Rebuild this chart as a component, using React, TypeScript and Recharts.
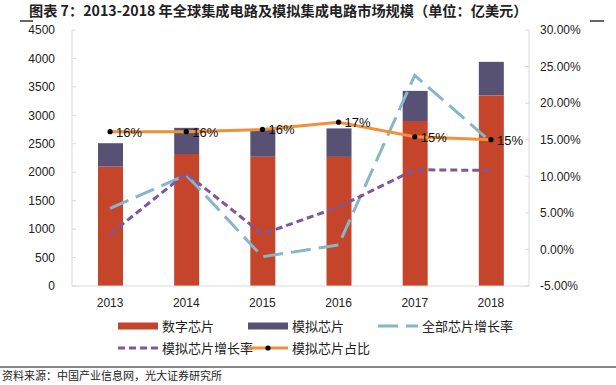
import {
  ComposedChart,
  Bar,
  Line,
  XAxis,
  YAxis,
  LabelList,
} from "recharts";

const years = ["2013", "2014", "2015", "2016", "2017", "2018"];
const digital = [2100, 2320, 2270, 2270, 2900, 3350];
const analog = [410, 460, 480, 500, 530, 590];
const totalGrowth = [5.6, 10.2, -1.0, 0.6, 23.8, 14.7];
const analogGrowth = [2.1, 10.4, 2.1, 5.8, 10.9, 10.8];
const analogShare = [16.1, 16.1, 16.4, 17.4, 15.4, 15.0];
const leftTicks = [0, 500, 1000, 1500, 2000, 2500, 3000, 3500, 4000, 4500];
const rightTicks = [-5, 0, 5, 10, 15, 20, 25, 30];

const data = years.map((y, i) => ({
  year: y,
  digital: digital[i],
  analog: analog[i],
  totalGrowth: totalGrowth[i],
  analogGrowth: analogGrowth[i],
  share: analogShare[i],
}));

const C = {
  digital: "#c4452a",
  analog: "#575173",
  total: "#86b6c8",
  analogGrowth: "#80569a",
  share: "#f0903a",
  axis: "#d9d9d9",
};

const tickStyle = { fontSize: 12, fill: "#222", fontFamily: "Liberation Sans, Arial, sans-serif" };
const cjk = '"Noto Sans CJK SC", sans-serif';

const ShareDot = (p: any) => <circle cx={p.cx} cy={p.cy} r={2.6} fill="#000" />;

const ShareLabel = (p: any) => (
  <text
    x={p.x + 6}
    y={p.y + 5}
    fontSize={13}
    fill="#111"
    fontFamily="Liberation Sans, Arial, sans-serif"
  >
    {Math.round(p.value)}%
  </text>
);

const Swatch = ({ kind, color }: { kind: string; color: string }) => (
  <svg width={40} height={10} style={{ marginRight: 4 }}>
    {kind === "bar" && <rect x={0} y={1.5} width={40} height={7} fill={color} />}
    {kind === "long" && (
      <line x1={0} y1={5} x2={40} y2={5} stroke={color} strokeWidth={3} strokeDasharray="20 8" />
    )}
    {kind === "short" && (
      <line x1={0} y1={5} x2={40} y2={5} stroke={color} strokeWidth={3} strokeDasharray="7 4" />
    )}
    {kind === "dot" && (
      <>
        <line x1={0} y1={5} x2={40} y2={5} stroke={color} strokeWidth={3} />
        <circle cx={20} cy={5} r={2.6} fill="#000" />
      </>
    )}
  </svg>
);

const LegendItem = ({ x, y, kind, color, label }: any) => (
  <div
    style={{
      position: "absolute",
      left: x,
      top: y,
      display: "flex",
      alignItems: "center",
      fontSize: 13,
      lineHeight: "16px",
      fontFamily: cjk,
      color: "#222",
      whiteSpace: "nowrap",
    }}
  >
    <Swatch kind={kind} color={color} />
    {label}
  </div>
);

export default function App() {
  return (
    <div style={{ position: "absolute", left: 0, top: 0, width: 616, height: 385, background: "#fff", overflow: "hidden" }}>
      <div
        style={{
          position: "absolute",
          left: 29,
          top: 2,
          fontSize: 14.2,
          lineHeight: "16px",
          fontWeight: 700,
          fontFamily: cjk,
          color: "#222",
          whiteSpace: "nowrap",
        }}
      >
        图表 7：2013-2018 年全球集成电路及模拟集成电路市场规模（单位：亿美元）
      </div>
      <div style={{ position: "absolute", left: 20, top: 20, width: 13, height: 2, background: "#666" }} />
      <div style={{ position: "absolute", left: 590, top: 20, width: 14, height: 2, background: "#666" }} />

      <div style={{ position: "absolute", left: 0, top: 0 }}>
        <ComposedChart
          width={616}
          height={310}
          data={data}
          margin={{ top: 30, right: 0, bottom: 0, left: 0 }}
          barCategoryGap={25}
        >
          <XAxis
            dataKey="year"
            axisLine={{ stroke: C.axis }}
            tickLine={false}
            tick={tickStyle}
            height={24}
            tickMargin={6}
          />
          <YAxis
            yAxisId="left"
            domain={[0, 4500]}
            ticks={leftTicks}
            width={72}
            axisLine={{ stroke: C.axis }}
            tickLine={{ stroke: C.axis }}
            tickSize={-4}
            tickMargin={21}
            tick={tickStyle}
            interval={0}
          />
          <YAxis
            yAxisId="right"
            orientation="right"
            domain={[-5, 30]}
            ticks={rightTicks}
            width={87}
            axisLine={{ stroke: C.axis }}
            tickLine={{ stroke: C.axis }}
            tickSize={-4}
            tickMargin={15}
            tick={tickStyle}
            interval={0}
            tickFormatter={(v: number) => `${v.toFixed(2)}%`}
          />
          <Bar yAxisId="left" dataKey="digital" stackId="a" fill={C.digital} barSize={25} isAnimationActive={false} />
          <Bar yAxisId="left" dataKey="analog" stackId="a" fill={C.analog} barSize={25} isAnimationActive={false} />
          <Line
            yAxisId="right"
            dataKey="totalGrowth"
            stroke={C.total}
            strokeWidth={3}
            strokeDasharray="20 8"
            dot={false}
            type="linear"
            isAnimationActive={false}
          />
          <Line
            yAxisId="right"
            dataKey="analogGrowth"
            stroke={C.analogGrowth}
            strokeWidth={3}
            strokeDasharray="7 4"
            dot={false}
            type="linear"
            isAnimationActive={false}
          />
          <Line
            yAxisId="right"
            dataKey="share"
            stroke={C.share}
            strokeWidth={3}
            dot={<ShareDot />}
            type="linear"
            isAnimationActive={false}
          >
            <LabelList dataKey="share" content={<ShareLabel />} />
          </Line>
        </ComposedChart>
      </div>

      <LegendItem x={118} y={318} kind="bar" color={C.digital} label="数字芯片" />
      <LegendItem x={248} y={318} kind="bar" color={C.analog} label="模拟芯片" />
      <LegendItem x={378} y={318} kind="long" color={C.total} label="全部芯片增长率" />
      <LegendItem x={118} y={340} kind="short" color={C.analogGrowth} label="模拟芯片增长率" />
      <LegendItem x={248} y={340} kind="dot" color={C.share} label="模拟芯片占比" />

      <div style={{ position: "absolute", left: 0, top: 366, width: 616, height: 2, background: "#888" }} />
      <div
        style={{
          position: "absolute",
          left: 2,
          top: 369,
          fontSize: 11,
          lineHeight: "13px",
          fontFamily: cjk,
          color: "#222",
          whiteSpace: "nowrap",
        }}
      >
        资料来源：中国产业信息网，光大证券研究所
      </div>
    </div>
  );
}
